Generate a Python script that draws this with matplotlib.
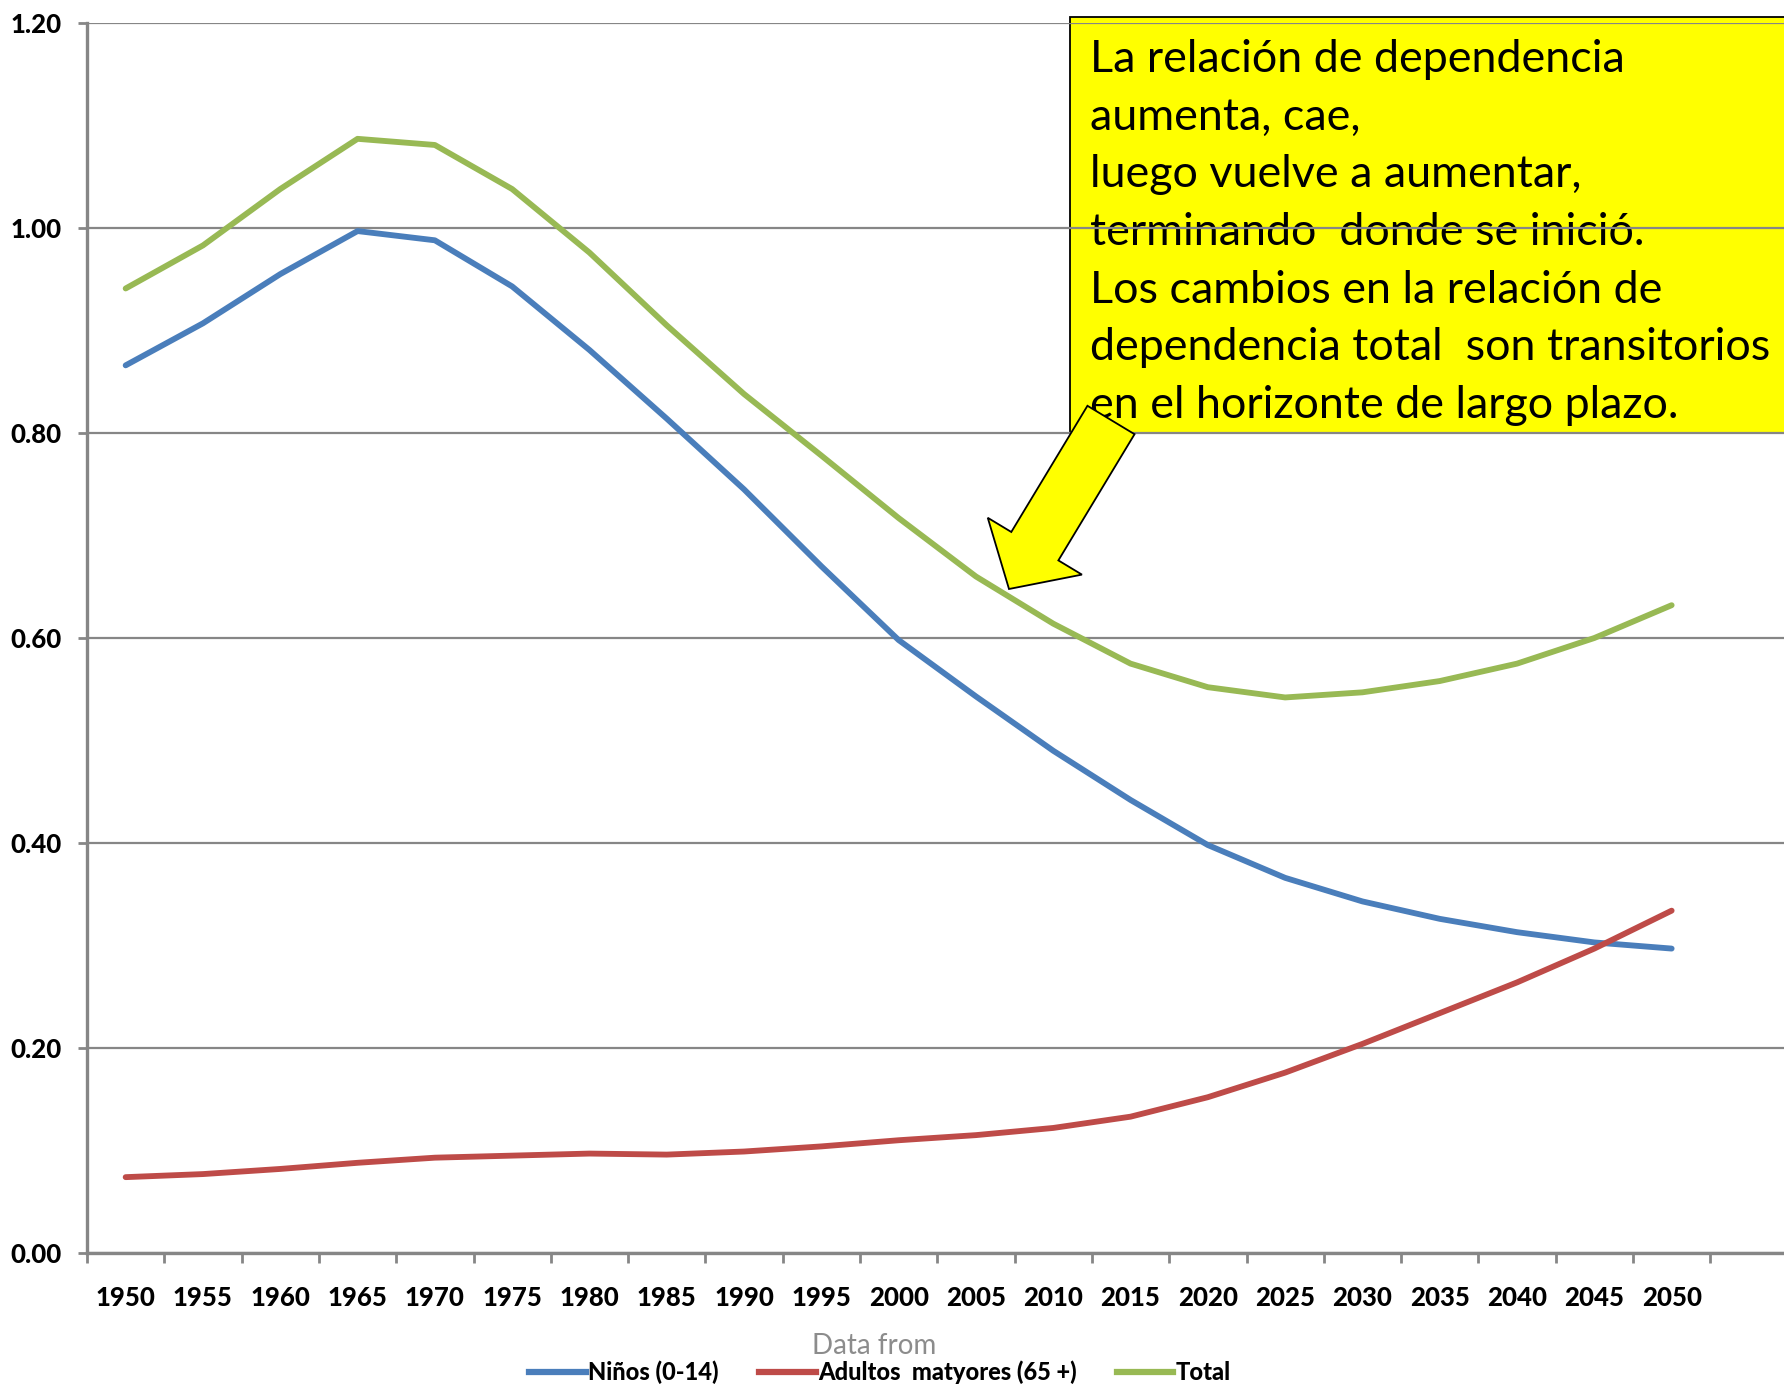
import matplotlib
matplotlib.use("Agg")
import matplotlib.pyplot as plt
from matplotlib.patches import Rectangle, FancyArrow
from matplotlib.transforms import IdentityTransform
from matplotlib.lines import Line2D

# ---------------- data ----------------
years = ["1950", "1955", "1960", "1965", "1970", "1975", "1980", "1985", "1990", "1995",
         "2000", "2005", "2010", "2015", "2020", "2025", "2030", "2035", "2040", "2045", "2050"]
ninos = [0.866, 0.907, 0.955, 0.997, 0.988, 0.943, 0.881, 0.814, 0.745, 0.670,
         0.598, 0.543, 0.490, 0.442, 0.398, 0.366, 0.343, 0.326, 0.313, 0.303, 0.297]
adultos = [0.074, 0.077, 0.082, 0.088, 0.093, 0.095, 0.097, 0.096, 0.099, 0.104,
           0.110, 0.115, 0.122, 0.133, 0.152, 0.176, 0.204, 0.234, 0.264, 0.297, 0.334]
total = [0.941, 0.983, 1.038, 1.087, 1.081, 1.038, 0.976, 0.905, 0.838, 0.778,
         0.717, 0.660, 0.614, 0.575, 0.552, 0.542, 0.547, 0.558, 0.575, 0.600, 0.632]
series_names = ["Niños (0-14)", "Adultos  matyores (65 +)", "Total"]
series_colors = ["#4A7EBB", "#BE4B48", "#98B954"]
yticks = [0.0, 0.2, 0.4, 0.6, 0.8, 1.0, 1.2]
note_lines = ["La relación de dependencia",
              "aumenta, cae,",
              "luego vuelve a aumentar,",
              "terminando  donde se inició.",
              "Los cambios en la relación de",
              "dependencia total  son transitorios",
              "en el horizonte de largo plazo."]
source_text = "Data from"

W, H = 1784, 1387
DPI = 100
fig = plt.figure(figsize=(W / DPI, H / DPI), dpi=DPI)
fig.patch.set_facecolor("white")

ax_left, ax_bottom_px, ax_top_px = 87, 1253, 23
ax = fig.add_axes([ax_left / W, (H - ax_bottom_px) / H,
                   (W - ax_left) / W, (ax_bottom_px - ax_top_px) / H])

grey = "#868686"
tickfont = ["Lato", "DejaVu Sans"]

x = list(range(len(years)))
for vals, name, col in zip([ninos, adultos, total], series_names, series_colors):
    ax.plot(x, vals, color=col, lw=4.2, solid_capstyle="round",
            solid_joinstyle="round", label=name, zorder=2)

ax.set_ylim(0, 1.2)
cat_px = 77.3
ax.set_xlim(-0.5, -0.5 + (W - ax_left) / cat_px)

ax.set_yticks(yticks)
ax.set_yticklabels([f"{v:.2f}" for v in yticks], fontfamily=tickfont,
                   fontweight="black", fontsize=18.5)
ax.set_xticks(x)
ax.set_xticklabels(years, fontfamily=tickfont, fontweight="black", fontsize=18.5)
ax.set_xticks([i - 0.5 for i in range(len(years) + 1)], minor=True)
ax.tick_params(axis="x", which="major", length=0, pad=24)
ax.tick_params(axis="x", which="minor", length=7.5, width=2, color=grey)
ax.tick_params(axis="y", which="major", length=6.5, width=2, color=grey, pad=12)

ax.set_axisbelow("line")
ax.grid(axis="y", color=grey, lw=1.6)
ax.grid(axis="x", visible=False)
for s in ["top", "right"]:
    ax.spines[s].set_visible(False)
for s in ["left", "bottom"]:
    ax.spines[s].set_color(grey)
    ax.spines[s].set_linewidth(2.4)

# ---------------- annotation box ----------------
idt = IdentityTransform()
box_l, box_t, box_b = 1070, 17, 433
rect = Rectangle((box_l, H - box_b), W - box_l + 20, box_b - box_t,
                 transform=idt, facecolor="#FFFF00", edgecolor="black",
                 lw=1.3, zorder=1, clip_on=False)
ax.add_artist(rect)
base0, step = 72, 57.7
for i, line in enumerate(note_lines):
    ax.text(1090, H - (base0 + i * step), line, transform=idt,
            fontfamily=["Lato", "DejaVu Sans"], fontsize=32.3, color="black",
            va="baseline", ha="left", zorder=1.1, clip_on=False)

# block arrow
tail = (1111, 420)
tip = (1009, 589)
arr = FancyArrow(tail[0], H - tail[1], tip[0] - tail[0], -(tip[1] - tail[1]),
                 width=55, head_width=110, head_length=50,
                 length_includes_head=True, transform=idt,
                 facecolor="#FFFF00", edgecolor="black", lw=1.3, zorder=3,
                 clip_on=False)
ax.add_artist(arr)

# ---------------- footer ----------------
fig.text(874 / W, (H - 1346) / H, source_text, ha="center", va="center",
         fontfamily=["Lato", "DejaVu Sans"], fontsize=20, color="#8C8C8C")

handles = [Line2D([0], [0], color=c, lw=4.5) for c in series_colors]
leg = fig.legend(handles, series_names, loc="center",
                 bbox_to_anchor=(880 / W, (H - 1372) / H), ncol=3, frameon=False,
                 handlelength=2.4, handletextpad=0.1, columnspacing=1.7,
                 prop={"family": tickfont, "weight": "black", "size": 17},
                 borderpad=0, borderaxespad=0)

fig.savefig("out.png", dpi=DPI, facecolor="white")
